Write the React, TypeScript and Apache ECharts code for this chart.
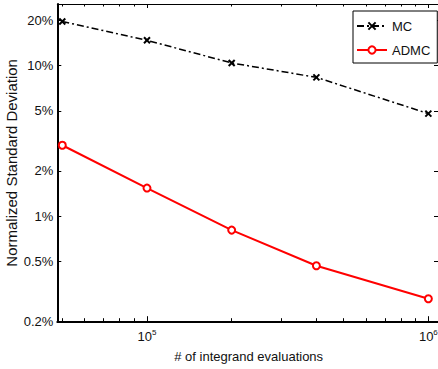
import React, { useEffect, useRef } from 'react';
import * as echarts from 'echarts';

// Number of integrand evaluations (x) and normalized standard deviation in % (y)
const evaluations = [50000, 100000, 200000, 400000, 1000000];
const mcDeviation = [19.6, 14.7, 10.4, 8.35, 4.8];
const admcDeviation = [2.96, 1.54, 0.81, 0.47, 0.284];

// Tick positions
const xMajorTicks = [1e5, 1e6];
const xMinorTicks = [5e4, 6e4, 7e4, 8e4, 9e4, 2e5, 3e5, 4e5, 5e5, 6e5, 7e5, 8e5, 9e5];
const yTicks = [0.2, 0.5, 1, 2, 5, 10, 20];

const X_MIN = 48000;
const X_MAX = 1.1e6;
const Y_MIN = 0.2;
const Y_MAX = 25.6;

const FONT = '"Liberation Sans", Arial, Helvetica, sans-serif';
const INK = '#111';

const xBase = {
  type: 'log' as const,
  logBase: 10,
  min: X_MIN,
  max: X_MAX,
  splitLine: { show: false },
  axisLabel: { show: false },
};

const yBase = {
  type: 'log' as const,
  logBase: 10,
  min: Y_MIN,
  max: Y_MAX,
  splitLine: { show: false },
  axisLabel: { show: false },
};

export default function App() {
  const ref = useRef<HTMLDivElement>(null);

  useEffect(() => {
    if (!ref.current) return;
    const chart = echarts.init(ref.current, null, { renderer: 'svg' });

    chart.setOption({
      animation: false,
      backgroundColor: '#fff',
      textStyle: { fontFamily: FONT, color: INK },
      grid: {
        left: 57.3,
        top: 4,
        right: -2,
        bottom: 47.3,
        containLabel: false,
        outerBoundsMode: 'none',
      },
      legend: {
        orient: 'vertical',
        left: 353,
        top: 11,
        padding: [8.5, 7, 6.5, 3],
        itemWidth: 30,
        itemHeight: 9,
        itemGap: 11,
        borderColor: '#000',
        borderWidth: 1,
        backgroundColor: '#fff',
        textStyle: { fontFamily: FONT, fontSize: 13, color: INK },
        data: ['MC', 'ADMC'],
      },
      xAxis: [
        {
          ...xBase,
          position: 'bottom',
          axisLine: { show: true, lineStyle: { color: '#000', width: 2 } },
          axisTick: {
            show: true,
            inside: true,
            length: 5.5,
            customValues: xMajorTicks,
            lineStyle: { color: '#000', width: 1 },
          },
          axisLabel: {
            show: true,
            margin: 7,
            customValues: xMajorTicks,
            formatter: (v: number) => `{base|10}{sup|${Math.round(Math.log10(v))}}`,
            rich: {
              base: { fontSize: 13, fontFamily: FONT, color: INK, lineHeight: 16 },
              sup: {
                fontSize: 8,
                fontFamily: FONT,
                color: INK,
                verticalAlign: 'top',
                lineHeight: 10,
                padding: [0, 0, 8, 0],
              },
            },
          },
          name: '# of integrand evaluations',
          nameLocation: 'middle',
          nameGap: 28,
          nameMoveOverlap: false,
          nameTextStyle: { fontFamily: FONT, fontSize: 13, color: INK },
        },
        {
          ...xBase,
          position: 'bottom',
          axisLine: { show: false },
          axisTick: {
            show: true,
            inside: true,
            length: 3.5,
            customValues: xMinorTicks,
            lineStyle: { color: '#000', width: 1 },
          },
        },
        {
          ...xBase,
          position: 'top',
          axisLine: { show: true, lineStyle: { color: '#000', width: 1 } },
          axisTick: {
            show: true,
            inside: true,
            length: 4,
            customValues: xMajorTicks,
            lineStyle: { color: '#000', width: 1 },
          },
        },
        {
          ...xBase,
          position: 'top',
          axisLine: { show: false },
          axisTick: {
            show: true,
            inside: true,
            length: 2.5,
            customValues: xMinorTicks,
            lineStyle: { color: '#000', width: 1 },
          },
        },
      ],
      yAxis: [
        {
          ...yBase,
          position: 'left',
          axisLine: { show: true, lineStyle: { color: '#000', width: 2 } },
          axisTick: {
            show: true,
            inside: true,
            length: 4,
            customValues: yTicks,
            lineStyle: { color: '#000', width: 1 },
          },
          axisLabel: {
            show: true,
            margin: 4,
            customValues: yTicks,
            fontFamily: FONT,
            fontSize: 13,
            color: INK,
            formatter: (v: number) => `${v}%`,
          },
          name: 'Normalized Standard Deviation',
          nameLocation: 'middle',
          nameRotate: 90,
          nameGap: 38,
          nameMoveOverlap: false,
          nameTextStyle: { fontFamily: FONT, fontSize: 15, color: INK },
        },
        {
          ...yBase,
          position: 'right',
          axisLine: { show: false },
          axisTick: {
            show: true,
            inside: true,
            length: 6,
            customValues: yTicks,
            lineStyle: { color: '#000', width: 1 },
          },
        },
      ],
      series: [
        {
          name: 'MC',
          type: 'line',
          xAxisIndex: 0,
          yAxisIndex: 0,
          data: evaluations.map((x, i) => [x, mcDeviation[i]]),
          symbol: 'path://M0,0L10,10M0,10L10,0',
          symbolSize: 6,
          lineStyle: { color: '#000', width: 1.5, type: [7, 3, 2, 3] },
          itemStyle: { color: 'transparent', borderColor: '#000', borderWidth: 2 },
          clip: false,
        },
        {
          name: 'ADMC',
          type: 'line',
          xAxisIndex: 0,
          yAxisIndex: 0,
          data: evaluations.map((x, i) => [x, admcDeviation[i]]),
          symbol: 'emptyCircle',
          symbolSize: 7,
          lineStyle: { color: '#ff0000', width: 2 },
          itemStyle: { color: '#ff0000', borderColor: '#ff0000', borderWidth: 1.5 },
          clip: false,
        },
      ],
    });

    return () => chart.dispose();
  }, []);

  return (
    <div
      ref={ref}
      style={{ position: 'fixed', left: 0, top: 0, width: 438, height: 369 }}
    />
  );
}
